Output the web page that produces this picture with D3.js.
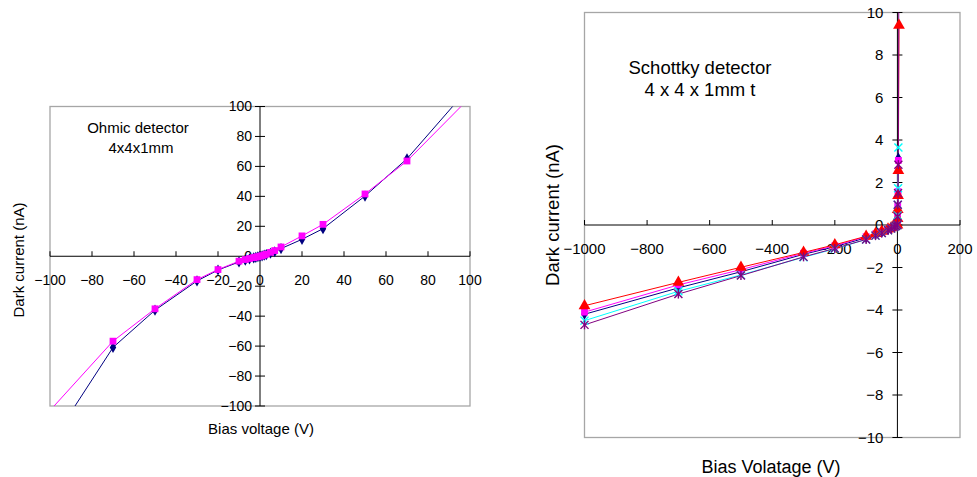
<!DOCTYPE html>
<html>
<head>
<meta charset="utf-8">
<script src="https://cdn.jsdelivr.net/npm/d3@7"></script>
<style>
  html, body { margin: 0; padding: 0; background: #fff; }
  svg text { font-family: "Liberation Sans", Arial, "Noto Sans CJK JP", sans-serif; fill: #000; }
</style>
</head>
<body>
<svg id="chart" width="977" height="477"></svg>
<script>
// ---- Ohmic detector: bias voltage (V) vs dark current (nA) ----
const ohmicVoltage = [-100, -70, -50, -30, -20, -10, -7, -5, -3, -2, -1, 0, 1, 2, 3, 5, 7, 10, 20, 30, 50, 70, 100];
const ohmicSample1 = [-125.7, -60.9, -36, -16.5, -9.2, -3.8, -2.6, -1.8, -1.1, -0.7, -0.35, 0, 0.3, 0.7, 1.1, 2.0, 3.0, 5.1, 11.3, 18.4, 40.2, 65.1, 113.3];
const ohmicSample2 = [-103, -56.7, -35.1, -15.6, -8.9, -3.3, -2.2, -1.5, -0.9, -0.6, -0.3, 0, 0.4, 0.9, 1.4, 2.6, 3.8, 6.2, 13.6, 21.3, 41.6, 63.6, 106.1];
const ohmicXTicks = [-100, -80, -60, -40, -20, 0, 20, 40, 60, 80, 100];
const ohmicYTicks = [-100, -80, -60, -40, -20, 0, 20, 40, 60, 80, 100];

// ---- Schottky detector: five samples ----
const schottkyVoltage = [-1000, -700, -500, -300, -200, -100, -70, -50, -30, -20, -10, -5, 0, 0.5, 1, 2, 3, 5];
const schottkyNavy    = [-4.2, -2.96, -2.20, -1.38, -1.02, -0.60, -0.45, -0.34, -0.22, -0.15, -0.08, -0.04, 0, 0.35, 0.80, 1.50, 3.15, null];
const schottkyMagenta = [-4.1, -2.82, -2.10, -1.33, -0.98, -0.55, -0.42, -0.32, -0.20, -0.14, -0.08, -0.04, 0, 0.35, 0.90, 1.57, 3.04, null];
const schottkyRed     = [-3.8, -2.70, -1.99, -1.29, -0.93, -0.53, -0.40, -0.30, -0.19, -0.13, -0.07, -0.04, 0, 0.30, 0.72, 1.38, 2.56, 9.4];
const schottkyCyan    = [-4.5, -3.12, -2.35, -1.52, -1.12, -0.68, -0.50, -0.38, -0.25, -0.17, -0.09, -0.05, 0, 0.45, 0.95, 1.73, 3.65, null];
const schottkyPurple  = [-4.7, -3.25, -2.38, -1.50, -1.10, -0.68, -0.50, -0.38, -0.25, -0.17, -0.09, -0.05, 0, 0.40, 0.95, 1.50, 2.84, 14];
const schottkyXTicks = [-1000, -800, -600, -400, -200, 0, 200];
const schottkyYTicks = [-10, -8, -6, -4, -2, 0, 2, 4, 6, 8, 10];

const svg = d3.select("#chart");
const fmt = v => (v < 0 ? "\u2212" + Math.abs(v) : String(v));

// Marker shapes
const symbolPath = {
  diamond: d3.symbol().type(d3.symbolDiamond).size(36)(),
  square: d3.symbol().type(d3.symbolSquare).size(46)(),
  triangle: d3.symbol().type(d3.symbolTriangle).size(60)()
};

function drawMarker(g, kind, color, x, y) {
  if (kind === "cross" || kind === "star") {
    const r = 4;
    const m = g.append("g").attr("transform", `translate(${x},${y})`)
      .attr("stroke", color).attr("stroke-width", 1.4).attr("fill", "none");
    m.append("line").attr("x1", -r).attr("y1", -r).attr("x2", r).attr("y2", r);
    m.append("line").attr("x1", -r).attr("y1", r).attr("x2", r).attr("y2", -r);
    if (kind === "star") m.append("line").attr("x1", 0).attr("y1", -r - 0.5).attr("x2", 0).attr("y2", r + 0.5);
  } else {
    g.append("path").attr("d", symbolPath[kind])
      .attr("transform", `translate(${x},${y})`)
      .attr("fill", color);
  }
}

function drawChart(cfg) {
  const { box, xDomain, yDomain, xTicks, yTicks, series, id, fontSize } = cfg;
  const x = d3.scaleLinear().domain(xDomain).range([box.left, box.right]);
  const y = d3.scaleLinear().domain(yDomain).range([box.bottom, box.top]);
  const g = svg.append("g");

  // Plot frame
  g.append("rect")
    .attr("x", box.left).attr("y", box.top)
    .attr("width", box.right - box.left).attr("height", box.bottom - box.top)
    .attr("fill", "none").attr("stroke", "#a6a6a6").attr("stroke-width", 1.3);

  // Axes crossing at the origin
  const x0 = x(0), y0 = y(0);
  const axisG = g.append("g").attr("stroke", "#000").attr("stroke-width", 1);
  axisG.append("line").attr("x1", box.left).attr("x2", box.right).attr("y1", y0).attr("y2", y0);
  axisG.append("line").attr("x1", x0).attr("x2", x0).attr("y1", box.top).attr("y2", box.bottom);
  xTicks.forEach(t => {
    axisG.append("line").attr("x1", x(t)).attr("x2", x(t)).attr("y1", y0 - 5).attr("y2", y0);
  });
  yTicks.forEach(t => {
    axisG.append("line").attr("x1", x0 - 5).attr("x2", x0 + 5).attr("y1", y(t)).attr("y2", y(t));
  });

  // Tick labels
  const labels = g.append("g").style("font-size", fontSize + "px");
  xTicks.forEach(t => {
    labels.append("text").attr("x", x(t)).attr("y", y0 + cfg.xLabelDy)
      .attr("text-anchor", "middle").text(fmt(t));
  });
  yTicks.forEach(t => {
    labels.append("text").attr("x", x0 - cfg.yLabelDx).attr("y", y(t))
      .attr("dy", "0.35em").attr("text-anchor", "end").text(fmt(t));
  });

  // Lines are clipped to the plot frame; markers are drawn only for in-range points
  svg.append("clipPath").attr("id", id)
    .append("rect").attr("x", box.left).attr("y", box.top)
    .attr("width", box.right - box.left).attr("height", box.bottom - box.top);
  const lines = g.append("g").attr("clip-path", `url(#${id})`);
  const marks = g.append("g");
  const line = d3.line()
    .defined(d => d[1] !== null)
    .x(d => x(d[0])).y(d => y(d[1]));
  series.forEach(s => {
    const pts = s.xs.map((v, i) => [v, s.ys[i]]);
    lines.append("path").datum(pts).attr("d", line)
      .attr("fill", "none").attr("stroke", s.color).attr("stroke-width", 1);
  });
  const inX = v => v >= xDomain[0] && v <= xDomain[1];
  const inY = v => v >= yDomain[0] && v <= yDomain[1];
  series.forEach(s => {
    s.xs.forEach((v, i) => {
      const val = s.ys[i];
      if (val === null || !inX(v) || !inY(val)) return;
      drawMarker(marks, s.marker, s.color, x(v), y(val));
    });
  });
  return { x, y };
}

// Left chart
drawChart({
  id: "clip-ohmic",
  box: { left: 50, right: 470, top: 106.5, bottom: 406 },
  xDomain: [-100, 100], yDomain: [-100, 100],
  xTicks: ohmicXTicks, yTicks: ohmicYTicks,
  fontSize: 14, xLabelDy: 29, yLabelDx: 8,
  series: [
    { xs: ohmicVoltage, ys: ohmicSample1, color: "#000080", marker: "diamond" },
    { xs: ohmicVoltage, ys: ohmicSample2, color: "#ff00ff", marker: "square" }
  ]
});

svg.append("text").attr("x", 138).attr("y", 133).attr("text-anchor", "middle")
  .style("font-size", "15px").text("Ohmic detector");
svg.append("text").attr("x", 141).attr("y", 153).attr("text-anchor", "middle")
  .style("font-size", "15px").text("4x4x1mm");
svg.append("text").attr("x", 261).attr("y", 434).attr("text-anchor", "middle")
  .style("font-size", "15px").text("Bias voltage (V)");
svg.append("text").attr("transform", "translate(24,260) rotate(-90)").attr("text-anchor", "middle")
  .style("font-size", "15px").text("Dark current (nA)");

// Right chart
drawChart({
  id: "clip-schottky",
  box: { left: 584.5, right: 960, top: 12.5, bottom: 437.5 },
  xDomain: [-1000, 200], yDomain: [-10, 10],
  xTicks: schottkyXTicks, yTicks: schottkyYTicks,
  fontSize: 15, xLabelDy: 29, yLabelDx: 14,
  series: [
    { xs: schottkyVoltage, ys: schottkyNavy, color: "#000080", marker: "diamond" },
    { xs: schottkyVoltage, ys: schottkyMagenta, color: "#ff00ff", marker: "square" },
    { xs: schottkyVoltage, ys: schottkyRed, color: "#ff0000", marker: "triangle" },
    { xs: schottkyVoltage, ys: schottkyCyan, color: "#00ffff", marker: "cross" },
    { xs: schottkyVoltage, ys: schottkyPurple, color: "#800080", marker: "star" }
  ]
});

svg.append("text").attr("x", 700).attr("y", 74).attr("text-anchor", "middle")
  .style("font-size", "18.5px").text("Schottky detector");
svg.append("text").attr("x", 700).attr("y", 96).attr("text-anchor", "middle")
  .style("font-size", "18.5px").text("4 x 4 x 1mm t");
svg.append("text").attr("x", 771).attr("y", 473).attr("text-anchor", "middle")
  .style("font-size", "18px").text("Bias Volatage (V)");
svg.append("text").attr("transform", "translate(559,215) rotate(-90)").attr("text-anchor", "middle")
  .style("font-size", "18.5px").text("Dark current (nA)");
</script>
</body>
</html>
